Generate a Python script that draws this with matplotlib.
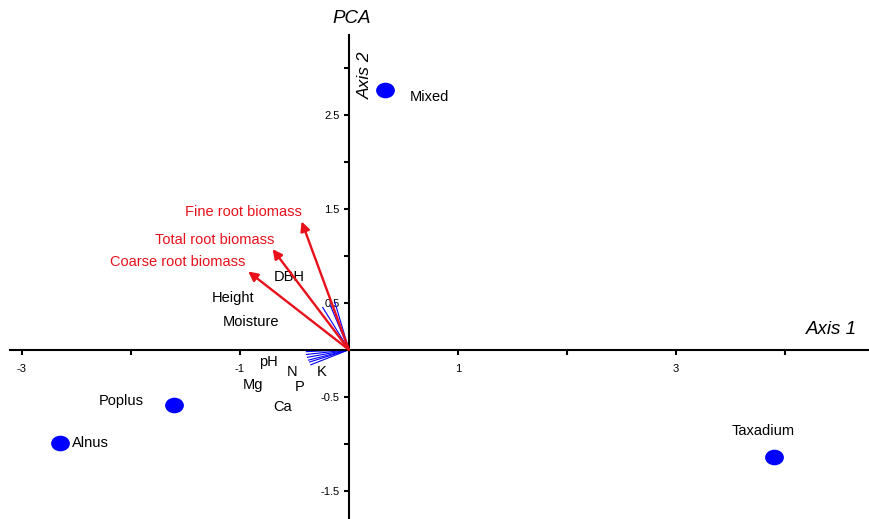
import numpy as np
import matplotlib
matplotlib.use("Agg")
import matplotlib.pyplot as plt
from matplotlib.path import Path
from matplotlib.transforms import Affine2D

plt.rcParams['font.family'] = ['Liberation Sans', 'DejaVu Sans']

# site scores
sites = ['Mixed', 'Taxadium', 'Poplus', 'Alnus']
site_x = [0.33, 3.90, -1.60, -2.65]
site_y = [2.76, -1.14, -0.585, -0.99]

# root biomass vectors (red)
root_vars = ['Fine root biomass', 'Total root biomass', 'Coarse root biomass']
root_x = [-0.434, -0.70, -0.924]
root_y = [1.365, 1.07, 0.833]

# other variables (blue)
env_vars = ['DBH', 'Height', 'Moisture', 'pH', 'N', 'P', 'K', 'Mg', 'Ca']
env_x = [-0.13, -0.17, -0.24, -0.39, -0.39, -0.38, -0.37, -0.36, -0.35]
env_y = [0.51, 0.47, 0.45, -0.02, -0.05, -0.08, -0.11, -0.13, -0.16]

# label placement (layout only)
site_off = [(18, -5, 'left'), (-8, 19, 'center'), (-22, 3, 'right'), (9, 0, 'left')]
root_lab = [(-0.43, 1.46), (-0.68, 1.17), (-0.95, 0.93)]
env_lab = [(-0.55, 0.77), (-1.06, 0.55), (-0.90, 0.29), (-0.74, -0.13),
           (-0.52, -0.24), (-0.45, -0.40), (-0.25, -0.24), (-0.88, -0.38),
           (-0.61, -0.61)]

fig = plt.figure(figsize=(8.69, 5.19), dpi=100)
ax = fig.add_axes([0, 0, 1, 1])
ax.set_xlim(-3.20, 4.77)
ax.set_ylim(-1.80, 3.72)

# axes through the origin
for s in ['top', 'right']:
    ax.spines[s].set_visible(False)
ax.spines['left'].set_position(('data', 0))
ax.spines['bottom'].set_position(('data', 0))
ax.spines['left'].set_bounds(-1.80, 3.35)
ax.spines['bottom'].set_bounds(-3.11, 4.77)
for s in ['left', 'bottom']:
    ax.spines[s].set_linewidth(1.5)

xt = [-3, -2, -1, 1, 2, 3, 4]
ax.set_xticks(xt)
ax.set_xticklabels([str(v) if v % 2 else '' for v in xt], fontsize=8)
yt = [-1.5, -1.0, -0.5, 0.5, 1.0, 1.5, 2.0, 2.5, 3.0]
ax.set_yticks(yt)
ax.set_yticklabels([str(v) if v % 1 else '' for v in yt], fontsize=8)
ax.tick_params(axis='x', length=3.5, width=1.5, pad=7)
ax.tick_params(axis='y', length=3.5, width=1.5, pad=3)

# blue vectors
for x, y in zip(env_x, env_y):
    ax.plot([0, x], [0, y], color='blue', lw=0.8)
for name, (lx, ly) in zip(env_vars, env_lab):
    ax.text(lx, ly, name, fontsize=10.5, ha='center', va='center', color='black')

# red arrows
for name, x, y, (lx, ly) in zip(root_vars, root_x, root_y, root_lab):
    ax.annotate('', xy=(x, y), xytext=(0, 0),
                arrowprops=dict(arrowstyle='-|>', color='#e8101a', lw=1.7,
                                mutation_scale=14, shrinkA=0, shrinkB=0))
    ax.text(lx, ly, name, fontsize=10.5, ha='right', va='center', color='#e8101a')

# site points
ell = Path.unit_circle().transformed(Affine2D().scale(1.22, 1.0))
ax.plot(site_x, site_y, linestyle='none', marker=ell, markersize=12.5,
        color='blue')
for name, x, y, (dx, dy, ha) in zip(sites, site_x, site_y, site_off):
    ax.annotate(name, xy=(x, y), xytext=(dx, dy), textcoords='offset points',
                fontsize=10.5, ha=ha, va='center')

ax.text(0.405, 0.965, 'PCA', transform=ax.transAxes, fontsize=13.5,
        style='italic', ha='center', va='center')
ax.text(0.42, 0.855, 'Axis 2', transform=ax.transAxes, fontsize=12.5,
        style='italic', rotation=90, ha='center', va='center')
ax.text(0.957, 0.365, 'Axis 1', transform=ax.transAxes, fontsize=13.5,
        style='italic', ha='center', va='center')

fig.savefig('out.png', dpi=100)
